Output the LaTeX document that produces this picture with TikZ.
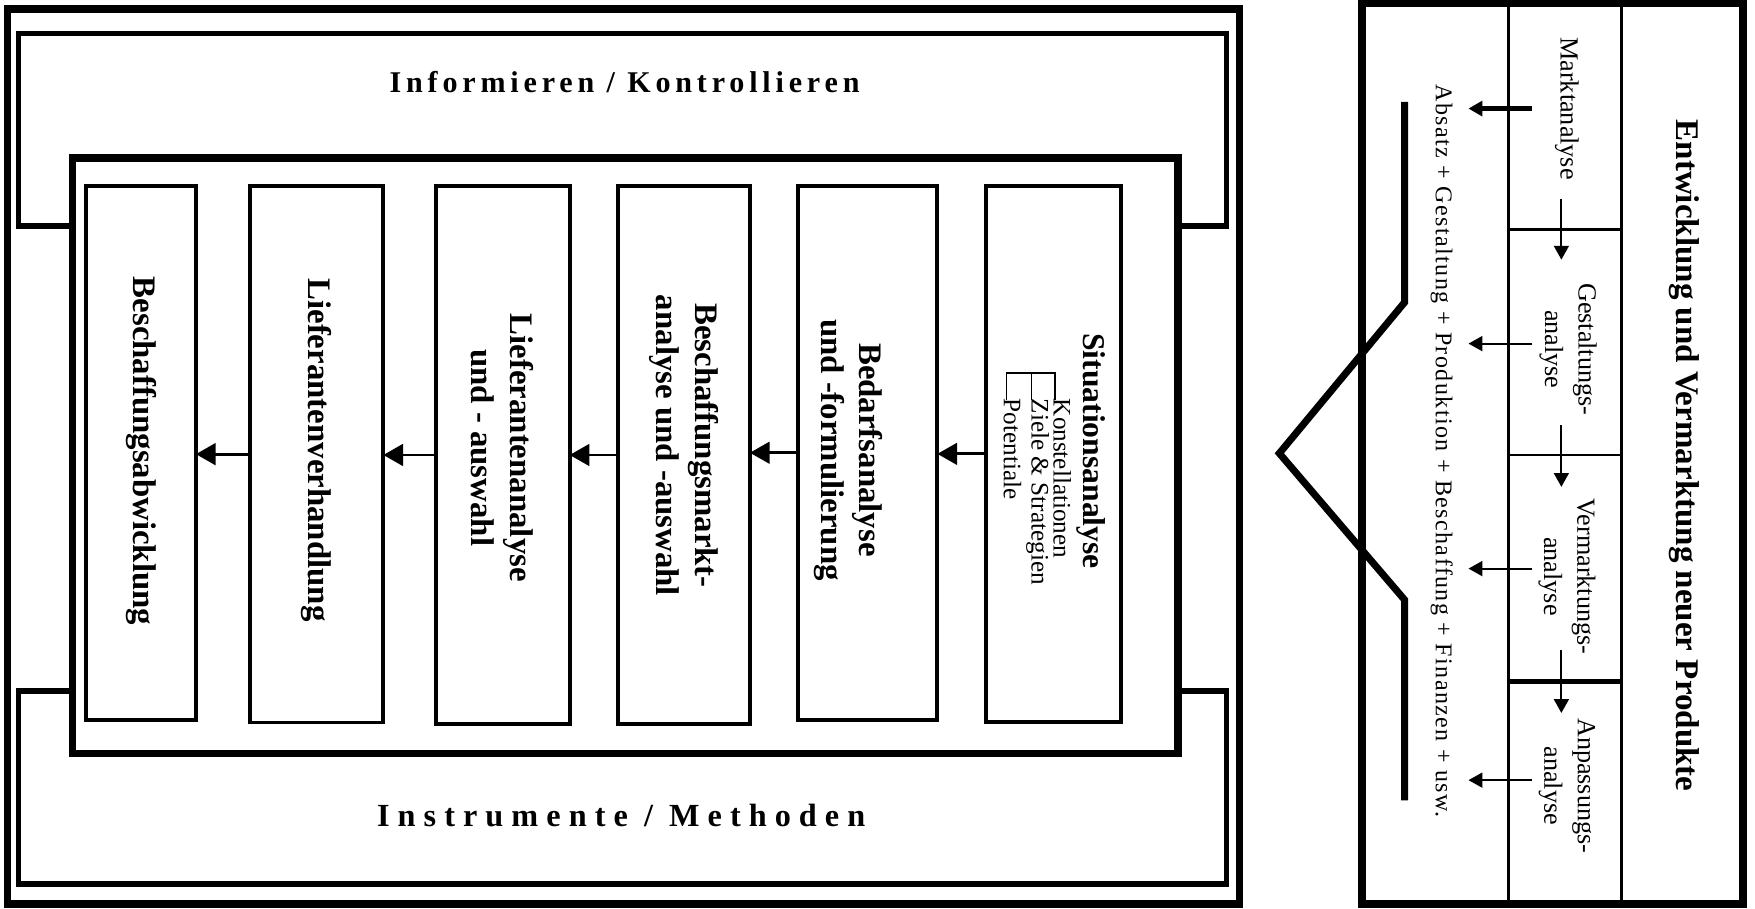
\documentclass[tikz,border=0pt]{standalone}
\usepackage{fontspec}
\setmainfont{Liberation Serif}
\usetikzlibrary{arrows.meta,fit}
\begin{document}
\begin{tikzpicture}[x=0.02cm,y=-0.02cm,
  outerframe/.style={draw,line width=3.8pt,inner sep=0pt,outer sep=0pt},
  bracket/.style={draw,line width=2.8pt,line join=miter},
  sbox/.style={draw,line width=2pt,inner sep=0pt,outer sep=0pt},
  flow/.style={line width=1.4pt,-{Triangle[length=10pt,width=11pt]}},
  btxt/.style={rotate=-90,align=center,inner sep=0pt,font=\fontsize{16.7}{19.8}\selectfont\bfseries},
  cell/.style={draw,line width=1.4pt,inner sep=0pt,outer sep=0pt},
  rtxt/.style={rotate=-90,align=center,inner sep=0pt,font=\fontsize{13.3}{17}\selectfont},
  rarrow/.style={line width=1.1pt,-{Triangle[length=7pt,width=7.5pt]}},
  chevron/.style={draw,line width=3.6pt,line join=miter},
  treeline/.style={draw,line width=0.8pt},
  item/.style={rotate=-90,anchor=west,inner sep=0pt,font=\fontsize{12.8}{13}\selectfont},
]
\useasboundingbox (0,0) rectangle (1568,812);

% ---------- left part ----------
\node[outerframe, fit={(6.5,8) (1107.5,807.5)}] (outer) {};
\node[outerframe, fit={(65,141) (1052.5,673)}] (inner) {};

\draw[bracket] (65,202) -- (16.5,202) -- (16.5,30) -- (1096,30) -- (1096,202) -- (1052.5,202);
\draw[bracket] (65,617.5) -- (16.5,617.5) -- (16.5,790) -- (1096,790) -- (1096,617.5) -- (1052.5,617.5);

\node[inner sep=0pt,font=\fontsize{15.3}{18}\selectfont\bfseries\addfontfeature{LetterSpace=16}] (info) at (558,73) {Informieren / Kontrollieren};
\node[inner sep=0pt,font=\fontsize{16.4}{19}\selectfont\bfseries\addfontfeature{LetterSpace=25}] (instr) at (555,729) {Instrumente / Methoden};

\node[sbox, fit={(77,166) (175,643)}] (b1) {};
\node[sbox, fit={(223,166) (342.5,645.5)}] (b2) {};
\node[sbox, fit={(389.5,166) (509,647)}] (b3) {};
\node[sbox, fit={(552,166) (670,647)}] (b4) {};
\node[sbox, fit={(713,166) (837.5,643)}] (b5) {};
\node[sbox, fit={(881,166) (1001.5,645)}] (b6) {};

\node[btxt] (t1) at (126,403) {Beschaffungsabwicklung};
\node[btxt] (t2) at (283,402) {Lieferantenverhandlung};
\node[btxt] (t3) at (449,400) {Lieferantenanalyse\\und - auswahl};
\node[btxt] (t4) at (611,398) {Beschaffungsmarkt-\\analyse und -auswahl};
\node[btxt] (t5) at (758,402) {Bedarfsanalyse\\und -formulierung};
\node[btxt, font=\fontsize{16.1}{19}\selectfont\bfseries] (t6) at (975,403) {Situationsanalyse};

\draw[treeline] (899.4,357) -- (899.4,333) -- (942.5,333) -- (942.5,357);
\draw[treeline] (921.7,333) -- (921.7,357);
\node[item] (k1) at (949,356) {Konstellationen};
\node[item] (k2) at (927,356) {Ziele \& Strategien};
\node[item] (k3) at (904.5,356) {Potentiale};

\draw[flow] (b2.west) -- (b2.west -| b1.east);
\draw[flow] (b3.west) -- (b3.west -| b2.east);
\draw[flow] (b4.west) -- (b4.west -| b3.east);
\draw[flow] (b5.west) -- (b5.west -| b4.east);
\draw[flow] (b6.west) -- (b6.west -| b5.east);

% ---------- right part ----------
\node[outerframe, line width=4pt, fit={(1217,3) (1557,808)}] (rp) {};
\node[cell, fit={(1348,3) (1449,205)}] (c1) {};
\node[cell, fit={(1348,205) (1449,406.5)}] (c2) {};
\node[cell, fit={(1348,406.5) (1449,609)}] (c3) {};
\node[cell, fit={(1348,609) (1449,808)}] (c4) {};
\draw[line width=2.2pt] (c3.south west) -- (c3.south east);

\node[btxt, font=\fontsize{16.8}{20}\selectfont\bfseries] (title) at (1505,407) {Entwicklung und Vermarktung neuer Produkte};
\node[rtxt, font=\fontsize{12.2}{14}\selectfont\addfontfeature{LetterSpace=6}] (abs) at (1288,403) {Absatz + Gestaltung + Produktion + Beschaffung + Finanzen + usw.};

\node[rtxt] (m1) at (1400,97) {Marktanalyse};
\node[rtxt] (m2) at (1401,312) {Gestaltungs-\\analyse};
\node[rtxt] (m3) at (1400,515) {Vermarktungs-\\analyse};
\node[rtxt] (m4) at (1400,702) {Anpassungs-\\analyse};

\coordinate (v1a) at (1395,178); \coordinate (v1b) at (1395,232);
\coordinate (v2a) at (1395,380); \coordinate (v2b) at (1395,435);
\coordinate (v3a) at (1395,581); \coordinate (v3b) at (1395,637);
\draw[rarrow] (v1a) -- (v1b);
\draw[rarrow] (v2a) -- (v2b);
\draw[rarrow] (v3a) -- (v3b);

\coordinate (h1a) at (1369,97);  \coordinate (h1b) at (1312,97);
\coordinate (h2a) at (1369,307); \coordinate (h2b) at (1312,307);
\coordinate (h3a) at (1369,508); \coordinate (h3b) at (1312,508);
\coordinate (h4a) at (1369,697); \coordinate (h4b) at (1312,697);
\draw[rarrow, line width=2.2pt] (h1a) -- (h1b);
\draw[rarrow] (h2a) -- (h2b);
\draw[rarrow] (h3a) -- (h3b);
\draw[rarrow] (h4a) -- (h4b);

\draw[chevron] (1255,91) -- (1255,270) -- (1143,405) -- (1255,536) -- (1255,715);
\end{tikzpicture}
\end{document}
